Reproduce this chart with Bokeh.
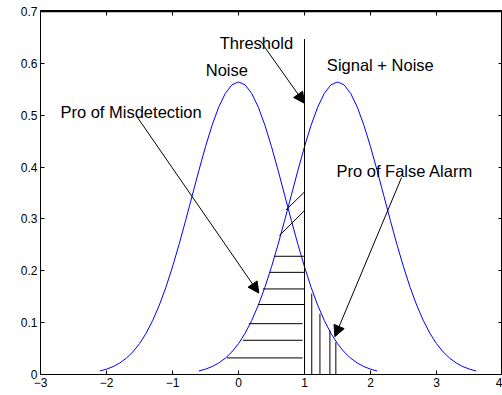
from bokeh.plotting import figure
from bokeh.models import LinearAxis, FixedTicker, Label, Arrow, NormalHead, Range1d, Span
from bokeh.embed import file_html
from bokeh.resources import INLINE

# ---- data ----
noise_x = [-2.1, -2.0, -1.9, -1.8, -1.7, -1.6, -1.5, -1.4, -1.3, -1.2, -1.1,
           -1.0, -0.9, -0.8, -0.7, -0.6, -0.5, -0.4, -0.3, -0.2, -0.1, 0.0,
           0.1, 0.2, 0.3, 0.4, 0.5, 0.6, 0.7, 0.8, 0.9, 1.0, 1.1, 1.2, 1.3,
           1.4, 1.5, 1.6, 1.7, 1.8, 1.9, 2.0, 2.1]
noise_y = [0.0069, 0.0103, 0.0153, 0.0221, 0.0314, 0.0436, 0.0595, 0.0795,
           0.1041, 0.1337, 0.1682, 0.2076, 0.2510, 0.2975, 0.3456, 0.3936,
           0.4394, 0.4808, 0.5156, 0.5421, 0.5586, 0.5642, 0.5586, 0.5421,
           0.5156, 0.4808, 0.4394, 0.3936, 0.3456, 0.2975, 0.2510, 0.2076,
           0.1682, 0.1337, 0.1041, 0.0795, 0.0595, 0.0436, 0.0314, 0.0221,
           0.0153, 0.0103, 0.0069]
signal_x = [-0.6, -0.5, -0.4, -0.3, -0.2, -0.1, 0.0, 0.1, 0.2, 0.3, 0.4,
            0.5, 0.6, 0.7, 0.8, 0.9, 1.0, 1.1, 1.2, 1.3, 1.4, 1.5,
            1.6, 1.7, 1.8, 1.9, 2.0, 2.1, 2.2, 2.3, 2.4, 2.5, 2.6, 2.7, 2.8,
            2.9, 3.0, 3.1, 3.2, 3.3, 3.4, 3.5, 3.6]
signal_y = [0.0069, 0.0103, 0.0153, 0.0221, 0.0314, 0.0436, 0.0595, 0.0795,
            0.1041, 0.1337, 0.1682, 0.2076, 0.2510, 0.2975, 0.3456, 0.3936,
            0.4394, 0.4808, 0.5156, 0.5421, 0.5586, 0.5642, 0.5586, 0.5421,
            0.5156, 0.4808, 0.4394, 0.3936, 0.3456, 0.2975, 0.2510, 0.2076,
            0.1682, 0.1337, 0.1041, 0.0795, 0.0595, 0.0436, 0.0314, 0.0221,
            0.0153, 0.0103, 0.0069]

threshold_x = [1.0]
threshold_top = [0.647]

# horizontal hatch (probability of misdetection)
miss_y = [0.032, 0.066, 0.098, 0.135, 0.165, 0.197, 0.228]
miss_x0 = [-0.175, 0.066, 0.157, 0.293, 0.368, 0.469, 0.545]
miss_x1 = [0.97, 0.97, 0.97, 1.0, 1.0, 1.0, 1.0]
# slanted hatch near the crossing
slant_x0 = [0.62, 0.72]
slant_y0 = [0.268, 0.3175]
slant_x1 = [1.0, 1.0]
slant_y1 = [0.316, 0.352]
# vertical hatch (probability of false alarm)
fa_x = [1.11, 1.234, 1.385, 1.475]
fa_top = [0.156, 0.117, 0.085, 0.062]

x_ticks = [-3, -2, -1, 0, 1, 2, 3, 4]
y_ticks = [0, 0.1, 0.2, 0.3, 0.4, 0.5, 0.6, 0.7]
y_tick_labels = ["0", "0.1", "0.2", "0.3", "0.4", "0.5", "0.6", "0.7"]
y_top = 0.7

FONT = "Liberation Sans"

p = figure(width=502, height=395, x_range=Range1d(-3, 4), y_range=Range1d(0, y_top + 0.002),
           output_backend="svg", toolbar_location=None, title_location=None,
           min_border_left=40, min_border_right=0, min_border_top=10, min_border_bottom=21,
           background_fill_color="white", border_fill_color="white",
           outline_line_color="black", outline_line_width=1, outline_line_alpha=1.0)
p.grid.visible = False


def style_axis(ax, show_labels=True):
    ax.major_tick_in = 4
    ax.major_tick_out = 0
    ax.minor_tick_in = 0
    ax.minor_tick_out = 0
    ax.axis_line_color = "black"
    ax.major_tick_line_color = "black"
    ax.major_label_text_font = FONT
    if show_labels:
        ax.major_label_text_color = "black"
        ax.major_label_text_font_size = "12px"
        ax.major_label_standoff = 3
    else:
        ax.major_label_text_color = None
        ax.major_label_text_font_size = "1px"
        ax.major_label_standoff = 0


p.xaxis.ticker = FixedTicker(ticks=x_ticks)
p.yaxis.ticker = FixedTicker(ticks=y_ticks)
p.yaxis.major_label_overrides = dict(zip(y_ticks, y_tick_labels))
style_axis(p.xaxis[0])
style_axis(p.yaxis[0])

top_ax = LinearAxis(ticker=FixedTicker(ticks=x_ticks))
style_axis(top_ax, False)
top_ax.major_tick_in = 5
p.add_layout(top_ax, "above")
right_ax = LinearAxis(ticker=FixedTicker(ticks=y_ticks))
style_axis(right_ax, False)
right_ax.axis_line_color = None
p.add_layout(right_ax, "right")

# top edge of the axes box (inside the frame so it is not clipped)
p.add_layout(Span(location=y_top, dimension="width", line_color="black", line_width=1.5))

# curves
p.line(noise_x, noise_y, line_color="#0000ff", line_width=1)
p.line(signal_x, signal_y, line_color="#0000ff", line_width=1)

# threshold
p.segment(x0=threshold_x, y0=[0], x1=threshold_x, y1=threshold_top,
          line_color="black", line_width=1)

# hatching
p.segment(x0=miss_x0, y0=miss_y, x1=miss_x1, y1=miss_y, line_color="black", line_width=1)
p.segment(x0=slant_x0, y0=slant_y0, x1=slant_x1, y1=slant_y1, line_color="black", line_width=1)
p.segment(x0=fa_x, y0=[0] * len(fa_x), x1=fa_x, y1=fa_top, line_color="black", line_width=1)

# annotations
labels = [
    ("Threshold", -0.285, 0.639),
    ("Noise", -0.496, 0.588),
    ("Signal + Noise", 1.339, 0.597),
    ("Pro of Misdetection", -2.698, 0.507),
    ("Pro of False Alarm", 1.484, 0.392),
]
for txt, lx, ly in labels:
    p.add_layout(Label(x=lx, y=ly, text=txt, text_font=FONT, text_font_size="16.5px",
                       text_color="black", text_baseline="alphabetic", text_align="left"))

arrows = [
    (0.333, 0.643, 1.0, 0.523),
    (-1.532, 0.496, 0.308, 0.157),
    (2.471, 0.380, 1.460, 0.073),
]
for xs, ys, xe, ye in arrows:
    p.add_layout(Arrow(end=NormalHead(size=11, fill_color="black", line_color="black", line_width=1),
                       x_start=xs, y_start=ys, x_end=xe, y_end=ye,
                       line_color="black", line_width=1))

open("out.html", "w").write(file_html(p, INLINE))
